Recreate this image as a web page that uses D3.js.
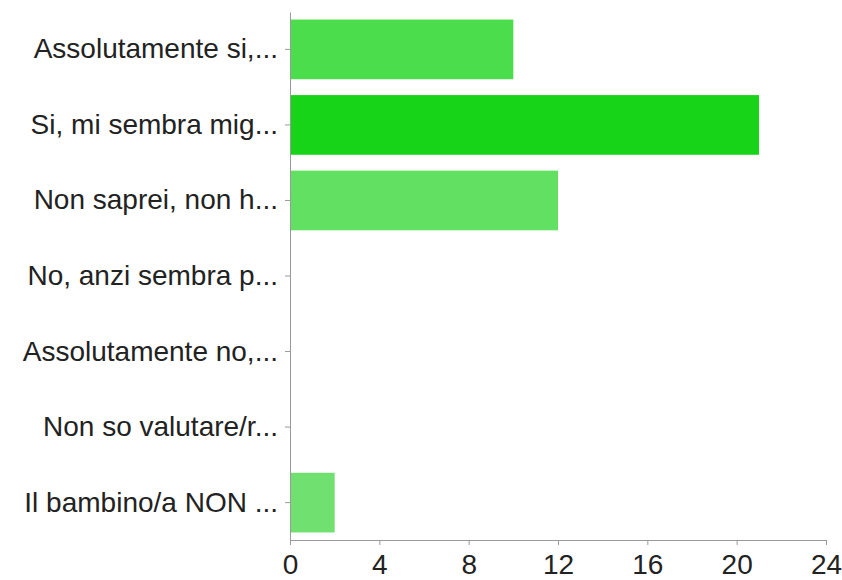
<!DOCTYPE html>
<html>
<head>
<meta charset="utf-8">
<script src="https://cdn.jsdelivr.net/npm/d3@7"></script>
<style>
  body { margin: 0; background: #fff; }
  .axis text { font-family: "Liberation Sans", Arial, sans-serif; font-size: 28px; fill: #222; }
  .axis path, .axis line { stroke: #9a9a9a; }
</style>
</head>
<body>
<div id="chart"></div>
<script>
// answer labels (truncated as in the original)
const categories = [
  "Assolutamente si,...",
  "Si, mi sembra mig...",
  "Non saprei, non h...",
  "No, anzi sembra p...",
  "Assolutamente no,...",
  "Non so valutare/r...",
  "Il bambino/a NON ..."
];
const counts = [10, 21, 12, 0, 0, 0, 2];
const barColors = ["#4cdd4c", "#18d418", "#62e062", "#70e070", "#70e070", "#70e070", "#70e070"];
const xTicks = [0, 4, 8, 12, 16, 20, 24];

const width = 842, height = 580;
const margin = {top: 12, right: 16, bottom: 40, left: 290};

const svg = d3.select("#chart").append("svg")
    .attr("width", width)
    .attr("height", height);

const x = d3.scaleLinear()
    .domain([0, 24])
    .range([margin.left, width - margin.right]);

const y = d3.scaleBand()
    .domain(categories)
    .range([margin.top, height - margin.bottom])
    .paddingInner(0.21)
    .paddingOuter(0.1);

// bars
svg.selectAll("rect.bar")
    .data(categories)
    .join("rect")
    .attr("class", "bar")
    .attr("x", x(0))
    .attr("y", d => y(d))
    .attr("width", (d, i) => x(counts[i]) - x(0))
    .attr("height", y.bandwidth())
    .attr("fill", (d, i) => barColors[i]);

// y axis with labels
svg.append("g")
    .attr("class", "axis")
    .attr("transform", `translate(${x(0)},0)`)
    .call(d3.axisLeft(y).tickSize(5).tickSizeOuter(0).tickPadding(7));

// x axis
svg.append("g")
    .attr("class", "axis")
    .attr("transform", `translate(0,${height - margin.bottom})`)
    .call(d3.axisBottom(x).tickValues(xTicks).tickSize(5).tickSizeOuter(0).tickPadding(9));
</script>
</body>
</html>
